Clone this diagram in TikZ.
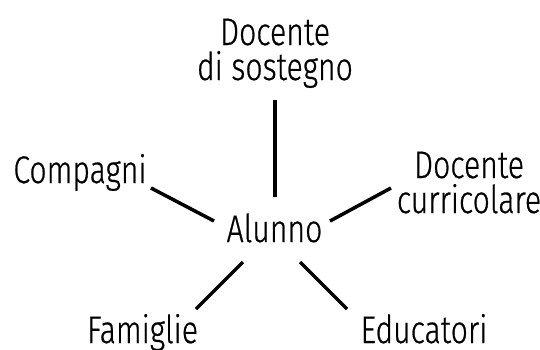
\documentclass[tikz,border=0pt]{standalone}
\usepackage{fontspec}
\setmainfont[FakeStretch=0.785,UprightFont=* Light,UprightFeatures={FakeBold=0.6}]{Fira Sans}
\begin{document}
\begin{tikzpicture}[x=1pt,y=-1pt,
  lbl/.style={anchor=base,inner sep=0pt,font=\fontsize{38.5}{35}\selectfont,align=center},
  conn/.style={line width=3.5pt}]
\useasboundingbox (0,0) rectangle (540,349);
\node[lbl] (alunno) at (274.5,242) {Alunno};
\node[lbl] (sost) at (275,80) {Docente\\di sostegno};
\node[lbl] (comp) at (80,183) {Compagni};
\node[lbl] (curr) at (469,213) {Docente\\curricolare};
\node[lbl] (fam) at (142.5,343) {Famiglie};
\node[lbl] (edu) at (424,343) {Educatori};
\coordinate (s1) at (275,100); \coordinate (s2) at (275,197);
\coordinate (c1) at (151,188); \coordinate (c2) at (214,221);
\coordinate (r1) at (391,188); \coordinate (r2) at (330,221);
\coordinate (f1) at (196,309); \coordinate (f2) at (243,262);
\coordinate (e1) at (347,309); \coordinate (e2) at (300,262);
\draw[conn] (s1) -- (s2);
\draw[conn] (c1) -- (c2);
\draw[conn] (r1) -- (r2);
\draw[conn] (f1) -- (f2);
\draw[conn] (e1) -- (e2);
\end{tikzpicture}
\end{document}
